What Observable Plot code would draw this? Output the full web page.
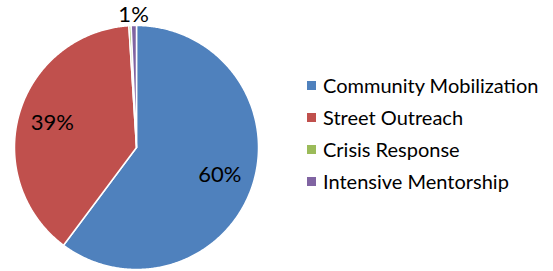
<!DOCTYPE html>
<html>
<head>
<meta charset="utf-8">
<script src="https://cdn.jsdelivr.net/npm/d3@7"></script>
<script src="https://cdn.jsdelivr.net/npm/@observablehq/plot@0.6"></script>
<style>
  html, body { margin: 0; padding: 0; background: #fff; }
  #wrap { position: relative; width: 553px; height: 271px; overflow: hidden; font-family: Lato, "Open Sans", sans-serif; }
  #chart { position: absolute; left: 0; top: 0; }
  #legend { position: absolute; left: 307px; top: 69px; }
  .row { display: flex; align-items: center; height: 32px; font-size: 20px; color: #000; white-space: nowrap; }
  .sw { width: 9px; height: 9px; margin-right: 7px; flex: none; }
</style>
</head>
<body>
<div id="wrap"><div id="chart"></div><div id="legend"></div></div>
<script>
const categories = ["Community Mobilization", "Street Outreach", "Crisis Response", "Intensive Mentorship"];
const values = [60.2, 38.8, 0.3, 0.7];
const labels = ["60%", "39%", "", "1%"];
const colors = ["#4F81BD", "#C0504D", "#9BBB59", "#8064A2"];

const total = d3.sum(values);
const pie = d3.pie().sort(null).value(d => d)(values);

// polygon outlines for each slice in unit-radius coordinates (clockwise from top)
const poly = [];
pie.forEach((p, i) => {
  const steps = Math.max(2, Math.ceil((p.endAngle - p.startAngle) / (Math.PI / 360)));
  poly.push({key: categories[i], x: 0, y: 0});
  for (let s = 0; s <= steps; s++) {
    const a = p.startAngle + (p.endAngle - p.startAngle) * s / steps;
    poly.push({key: categories[i], x: Math.sin(a), y: Math.cos(a)});
  }
  poly.push({key: categories[i], x: 0, y: 0});
});

const labelData = pie.map((p, i) => {
  const mid = (p.startAngle + p.endAngle) / 2;
  const share = values[i] / total;
  const r = share >= 0.05 ? 0.72 : 1.09;
  return {text: labels[i], x: Math.sin(mid) * r, y: Math.cos(mid) * r};
}).filter(d => d.text);

const plot = Plot.plot({
  width: 280, height: 271,
  margin: 0,
  x: {domain: [-136 / 122, 144 / 122], range: [0, 280], axis: null},
  y: {domain: [-124 / 122, 147 / 122], range: [271, 0], axis: null},
  color: {type: "ordinal", domain: categories, range: colors},
  style: {fontFamily: "Lato, 'Open Sans', sans-serif", background: "white"},
  marks: [
    Plot.line(poly, {x: "x", y: "y", z: "key", fill: "key", stroke: "white", strokeWidth: 1.5, strokeLinejoin: "round", curve: "linear"}),
    Plot.text(labelData, {x: "x", y: "y", text: "text", fontSize: 22, fill: "#000"})
  ]
});
document.getElementById("chart").appendChild(plot);

const legend = document.getElementById("legend");
categories.forEach((c, i) => {
  const row = document.createElement("div");
  row.className = "row";
  const sw = document.createElement("span");
  sw.className = "sw";
  sw.style.background = colors[i];
  const t = document.createElement("span");
  t.textContent = c;
  row.appendChild(sw); row.appendChild(t);
  legend.appendChild(row);
});
</script>
</body>
</html>
